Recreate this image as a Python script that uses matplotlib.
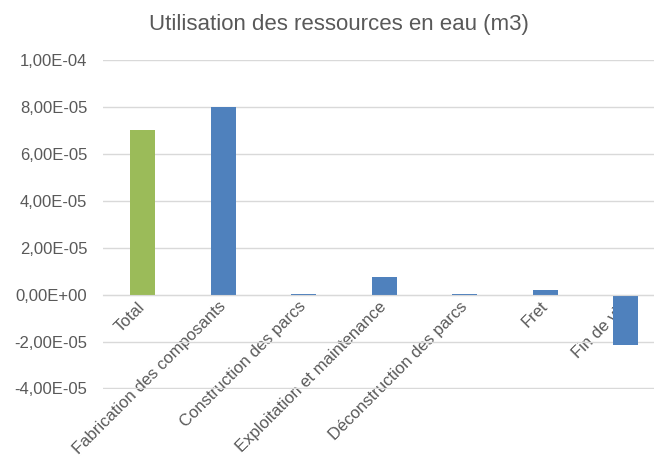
import matplotlib.pyplot as plt
from matplotlib.ticker import FuncFormatter, MultipleLocator

plt.rcParams['font.family'] = ['Liberation Sans', 'DejaVu Sans']

categories = ["Total", "Fabrication des composants", "Construction des parcs",
              "Exploitation et maintenance", "Déconstruction des parcs", "Fret", "Fin de vie"]
values = [7.0e-05, 8.0e-05, 4.0e-07, 7.3e-06, 3.0e-07, 2.0e-06, -2.15e-05]
colors = ["#9BBB59"] + ["#4F81BD"] * 6

text_color = "#595959"

fig = plt.figure(figsize=(6.54, 4.66), dpi=100)
ax = fig.add_axes([0.157, 0.165, 0.843, 0.706])

x = range(len(categories))
ax.bar(x, values, width=0.31, color=colors, zorder=3)

ax.set_ylim(-4.03e-05, 1e-04)
ax.set_xlim(-0.5, 6.35)
ax.yaxis.set_major_locator(MultipleLocator(2e-05))
ax.yaxis.set_major_formatter(FuncFormatter(lambda v, p: f"{v:.2E}".replace(".", ",")))
ax.grid(axis="y", color="#D9D9D9", linewidth=1, zorder=0)

for s in ["top", "right", "left"]:
    ax.spines[s].set_visible(False)
ax.spines["bottom"].set_position(("data", 0))
ax.spines["bottom"].set_color("#D9D9D9")
ax.spines["bottom"].set_zorder(4)

ax.set_xticks(list(x))
ax.set_xticklabels(categories, rotation=45, ha="right", va="center",
                   rotation_mode="anchor", fontsize=12, color=text_color)
ax.tick_params(axis="x", length=0, pad=7)
ax.tick_params(axis="y", length=0, pad=11, labelsize=12, labelcolor=text_color)

fig.text(0.518, 0.947, "Utilisation des ressources en eau (m3)", ha="center", va="center",
         fontsize=16, color=text_color)

fig.savefig("out.png", dpi=100)
